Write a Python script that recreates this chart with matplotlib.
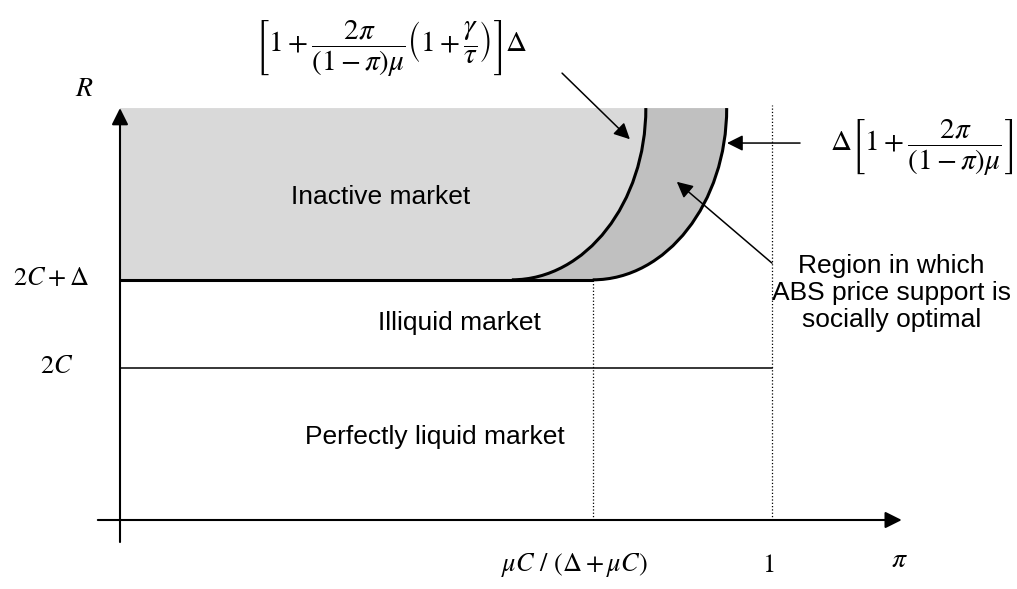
import matplotlib
matplotlib.use('Agg')
import matplotlib.pyplot as plt
from matplotlib.path import Path
from matplotlib.patches import PathPatch

plt.rcParams['mathtext.fontset'] = 'stix'
plt.rcParams['font.family'] = ['Liberation Sans', 'DejaVu Sans']

# schematic values (C = 1, pi in [0, 1])
r_levels = [2.0, 3.16]                     # 2C, 2C + Delta
r_labels = [r'$2C$', r'$2C+\Delta$']
r_top = 5.42
pi_star = 0.725                           # muC / (Delta + muC)
pi_ticks = [pi_star, 1.0]
pi_tick_labels = [r'$\mu C\ /\ (\Delta+\mu C)$', r'$1$']

# boundary curves as cubic bezier control points (pi, R)
inner_curve = [(0.601, 3.16), (0.7145, 3.16), (0.8065, 4.172), (0.8065, 5.42)]
outer_curve = [(0.725, 3.16), (0.8385, 3.16), (0.9305, 4.172), (0.9305, 5.42)]

region_names = ['Inactive market', 'Illiquid market', 'Perfectly liquid market']

light_gray = '#d9d9d9'
dark_gray = '#c0c0c0'

fig = plt.figure(figsize=(10.17, 5.89), dpi=100)
ax = fig.add_axes([0, 0, 1, 1])
ax.set_xlim(-120 / 652, (1017 - 120) / 652)
ax.set_ylim((520 - 589) / 76, 520 / 76)
ax.axis('off')

r_low = r_levels[1]

# inactive market (light gray)
verts = [(0, r_low)] + inner_curve + [(0, r_top), (0, r_low)]
codes = [Path.MOVETO, Path.LINETO, Path.CURVE4, Path.CURVE4, Path.CURVE4,
         Path.LINETO, Path.CLOSEPOLY]
ax.add_patch(PathPatch(Path(verts, codes), facecolor=light_gray, edgecolor='none'))

# region between the two curves (dark gray)
verts = outer_curve + inner_curve[::-1] + [outer_curve[0]]
codes = [Path.MOVETO, Path.CURVE4, Path.CURVE4, Path.CURVE4,
         Path.LINETO, Path.CURVE4, Path.CURVE4, Path.CURVE4, Path.CLOSEPOLY]
ax.add_patch(PathPatch(Path(verts, codes), facecolor=dark_gray, edgecolor='none'))

# curve outlines
for curve in (inner_curve, outer_curve):
    codes = [Path.MOVETO, Path.CURVE4, Path.CURVE4, Path.CURVE4]
    ax.add_patch(PathPatch(Path(curve, codes), facecolor='none', edgecolor='black', lw=2.2))

# horizontal levels
ax.plot([0, pi_star], [r_low, r_low], color='black', lw=2.2, solid_capstyle='butt')
ax.plot([0, 1], [r_levels[0], r_levels[0]], color='black', lw=1.1)

# dotted verticals
ax.plot([pi_star, pi_star], [0, r_low], color='black', lw=0.9, ls=':')
ax.plot([1, 1], [0, r_top + 0.04], color='black', lw=0.9, ls=':')

# axes with arrows
arrow_kw = dict(arrowstyle='-|>', color='black', lw=1.5, mutation_scale=25,
                shrinkA=0, shrinkB=0)
ax.annotate('', xy=(0, r_top), xytext=(0, -0.29), arrowprops=arrow_kw)
ax.annotate('', xy=(1.199, 0), xytext=(-0.034, 0), arrowprops=arrow_kw)

# axis labels
ax.text(-0.054, 5.67, r'$R$', fontsize=20, ha='center', va='center')
ax.text(1.196, -0.53, r'$\pi$', fontsize=20, ha='center', va='center')
for lvl, lab, xpos in zip(r_levels, r_labels, [-0.097, -0.106]):
    ax.text(xpos, lvl + 0.03, lab, fontsize=19, ha='center', va='center')
for t, lab in zip(pi_ticks, pi_tick_labels):
    ax.text(t - 0.028 if t < 1 else t - 0.006, -0.59, lab, fontsize=19, ha='center', va='center')

# region names
ax.text(0.400, 4.25, region_names[0], fontsize=19, ha='center', va='center')
ax.text(0.520, 2.59, region_names[1], fontsize=19, ha='center', va='center')
ax.text(0.483, 1.09, region_names[2], fontsize=19, ha='center', va='center')
ax.text(1.183, 2.99, 'Region in which\nABS price support is\nsocially optimal',
        fontsize=19, ha='center', va='center', linespacing=1.15)

# boundary formulas
ax.text(0.416, 6.20,
        r'$\left[1+\dfrac{2\pi}{(1-\pi)\mu}\left(1+\dfrac{\gamma}{\tau}\right)\right]\Delta$',
        fontsize=21, ha='center', va='center')
ax.text(1.230, 4.89, r'$\Delta\left[1+\dfrac{2\pi}{(1-\pi)\mu}\right]$',
        fontsize=21, ha='center', va='center')

# pointer arrows
ptr_kw = dict(arrowstyle='-|>', color='black', lw=1.1, mutation_scale=24,
              shrinkA=0, shrinkB=0)
ax.annotate('', xy=(0.782, 5.01), xytext=(0.678, 5.88), arrowprops=ptr_kw)
ax.annotate('', xy=(0.931, 4.96), xytext=(1.043, 4.96), arrowprops=ptr_kw)
ax.annotate('', xy=(0.854, 4.45), xytext=(1.0, 3.38), arrowprops=ptr_kw)

fig.savefig('out.png', dpi=100)
plt.close(fig)
